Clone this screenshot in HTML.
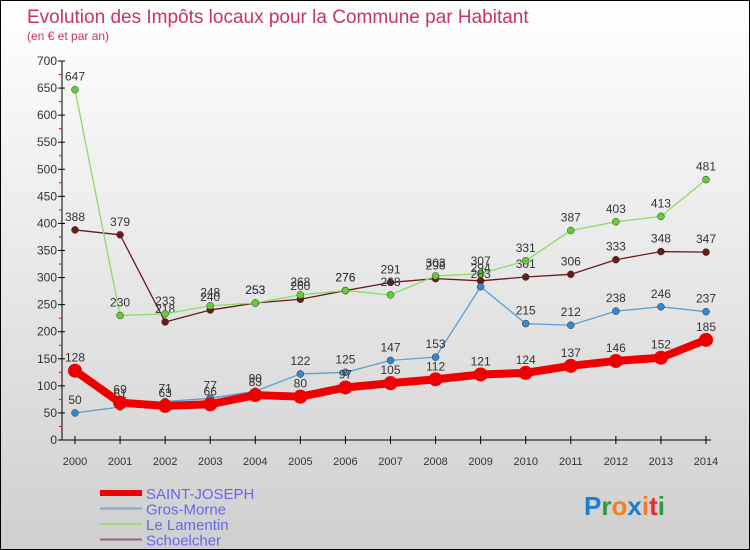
<!DOCTYPE html>
<html><head><meta charset="utf-8"><style>
body{margin:0}
#wrap{position:relative;width:748px;height:548px;border:1px solid #000;background:linear-gradient(#fff,#cfcfcf);font-family:"Liberation Sans",sans-serif;overflow:hidden}
svg{position:absolute;left:0;top:0}
</style></head><body>
<div id="wrap">
<svg id="chart" width="748" height="548">
<text x="26" y="22" font-size="19" fill="#c8336a">Evolution des Impôts locaux pour la Commune par Habitant</text>
<text x="26" y="39" font-size="12" fill="#c8336a">(en € et par an)</text>
</svg>
</div>
<script>
const years=["2000","2001","2002","2003","2004","2005","2006","2007","2008","2009","2010","2011","2012","2013","2014"];
const yTicks=[0,50,100,150,200,250,300,350,400,450,500,550,600,650,700];
const saintJoseph=[128,69,63,66,83,80,97,105,112,121,124,137,146,152,185];
const grosMorne=[50,61,71,77,90,122,125,147,153,283,215,212,238,246,237];
const leLamentin=[647,230,233,248,253,268,276,268,303,307,331,387,403,413,481];
const schoelcher=[388,379,218,240,253,260,276,291,298,294,301,306,333,348,347];
const NS="http://www.w3.org/2000/svg";
const svg=document.getElementById('chart');
const x=i=>74+i*(705-74)/(years.length-1);
const y=v=>439-v*(439-60)/700;
function mk(t,a,p){const e=document.createElementNS(NS,t);for(const k in a)e.setAttribute(k,a[k]);(p||svg).appendChild(e);return e;}
// axes
let ax=mk('g',{});


mk('line',{x1:61,y1:60,x2:61,y2:439,stroke:'#000'},ax);
mk('line',{x1:61,y1:439,x2:710,y2:439,stroke:'#000'},ax);
yTicks.forEach(v=>{mk('line',{x1:57,x2:64,y1:y(v),y2:y(v),stroke:'#000'},ax);
 if(v<700)mk('line',{x1:58,x2:61,y1:y(v+25),y2:y(v+25),stroke:'#e00'},ax);
 const t=mk('text',{x:56,y:y(v)+4,'text-anchor':'end','font-size':12,fill:'#333'},ax);t.textContent=v;
 });
years.forEach((yr,i)=>{mk('line',{x1:x(i),x2:x(i),y1:435,y2:443,stroke:'#000'},ax);
 const t=mk('text',{x:x(i),y:464,'text-anchor':'middle','font-size':11,fill:'#333'},ax);t.textContent=yr;
 });
const series=[
 {n:'schoelcher',d:schoelcher,c:'#6b1a1a',w:1.3,r:3.5,f:'#6b1a1a'},
 {n:'le-lamentin',d:leLamentin,c:'#88dd66',w:1.3,r:3.5,f:'#66cc33'},
 {n:'gros-morne',d:grosMorne,c:'#5aa0d0',w:1.3,r:3.5,f:'#3388cc'},
 {n:'saint-joseph',d:saintJoseph,c:'#ee0000',w:8,r:7,f:'#ee0000'}];
series.forEach(s=>{
 const g=mk('g',{});
 
 
 mk('polyline',{points:s.d.map((v,i)=>x(i)+','+y(v)).join(' '),fill:'none',stroke:s.c,'stroke-width':s.w,'stroke-linejoin':'round'},g);
 s.d.forEach((v,i)=>{const c=mk('circle',{cx:x(i),cy:y(v),r:s.r,fill:s.f,stroke:'#333','stroke-width':s.r>5?0:0.5},g);
  
  const t=mk('text',{x:x(i),y:y(v)-9,'text-anchor':'middle','font-size':12,fill:'#333'},g);t.textContent=v;
  });
});
// legend
const leg=[['SAINT-JOSEPH','#ee0000',6],['Gros-Morne','#7aaad0',2],['Le Lamentin','#99dd77',2],['Schoelcher','#996666',2]];
leg.forEach((l,i)=>{const g=mk('g',{});
 
 
 const yy=492+i*15.5;
 mk('line',{x1:99,x2:141,y1:yy,y2:yy,stroke:l[1],'stroke-width':l[2]},g);
 const t=mk('text',{x:145,y:yy+6,'font-size':15,fill:'#6666ee'},g);t.textContent=l[0];});
// logo
const lg=mk('text',{x:583,y:514,'font-size':26,'font-weight':'bold'});


[['P','#1a7fd0'],['r','#2a9a3a'],['o','#f08020'],['x','#1a7fd0'],['i','#f08020'],['t','#e03030'],['i','#2a9a3a']].forEach(p=>{const s=mk('tspan',{fill:p[1]},lg);s.textContent=p[0];});
</script>
</body></html>
